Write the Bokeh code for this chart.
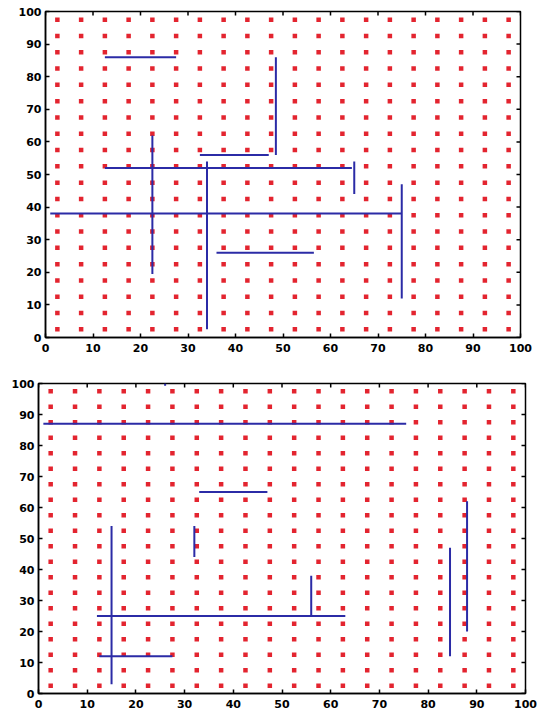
from bokeh.plotting import figure
from bokeh.layouts import column
from bokeh.models import FixedTicker, Range1d
from bokeh.embed import file_html
from bokeh.resources import INLINE
import math

# grid of seed points (same in both panels)
grid_vals = [2.5 + 5 * i for i in range(20)]
ticks = [0, 10, 20, 30, 40, 50, 60, 70, 80, 90, 100]

# top panel segments
top_x0 = [12.5, 22.5, 12.5, 32.5, 34.0, 48.5, 65.0, 1.0, 75.0, 36.0]
top_x1 = [27.5, 22.5, 64.5, 47.0, 34.0, 48.5, 65.0, 75.0, 75.0, 56.5]
top_y0 = [86.0, 19.5, 52.0, 56.0, 2.5, 56.0, 44.0, 38.0, 12.0, 26.0]
top_y1 = [86.0, 62.0, 52.0, 56.0, 54.0, 86.0, 54.0, 38.0, 47.0, 26.0]

# bottom panel segments
bot_x0 = [1.0, 26.0, 33.0, 15.0, 32.0, 12.0, 12.5, 56.0, 84.5, 88.0]
bot_x1 = [75.5, 26.0, 47.0, 15.0, 32.0, 63.0, 27.5, 56.0, 84.5, 88.0]
bot_y0 = [87.0, 99.3, 65.0, 3.0, 44.0, 25.0, 12.0, 25.0, 12.0, 20.0]
bot_y1 = [87.0, 100.0, 65.0, 54.0, 54.0, 25.0, 12.0, 38.0, 47.0, 62.0]

RED = "#e3242f"
BLUE = "#2b2ba6"

def make_panel(fw, fh, bl, br, bt, bb, x0, x1, y0, y1):
    p = figure(frame_width=fw, frame_height=fh, output_backend="svg", toolbar_location=None,
               x_range=Range1d(0, 100), y_range=Range1d(0, 100),
               min_border_left=bl, min_border_right=br,
               min_border_top=bt, min_border_bottom=bb)
    p.xgrid.visible = False
    p.ygrid.visible = False
    p.outline_line_color = "black"
    p.outline_line_width = 1.5
    for ax in (p.xaxis[0], p.yaxis[0]):
        ax.ticker = FixedTicker(ticks=ticks)
        ax.major_tick_in = 4
        ax.major_tick_out = 0
        ax.minor_tick_line_color = None
        ax.axis_line_width = 1.5
        ax.major_tick_line_width = 1.5
        ax.major_label_text_font = "DejaVu Sans"
        ax.major_label_text_font_style = "bold"
        ax.major_label_text_font_size = "11px"
        ax.major_label_text_color = "black"
    p.xaxis[0].major_label_standoff = 6
    p.yaxis[0].major_label_standoff = 4
    # inward ticks on the top and right frame edges
    p.scatter(ticks, [100] * len(ticks), marker="dash", angle=math.pi / 2, size=8,
              line_color="black", line_width=1.5)
    p.scatter([100] * len(ticks), ticks, marker="dash", size=8,
              line_color="black", line_width=1.5)
    xs = [x for y in grid_vals for x in grid_vals]
    ys = [y for y in grid_vals for x in grid_vals]
    p.scatter(xs, ys, marker="square", size=4.5, color=RED, line_color=None)
    p.segment(x0=x0, y0=y0, x1=x1, y1=y1, line_color=BLUE, line_width=2)
    return p

top = make_panel(475, 326, 45, 18, 11, 23, top_x0, top_x1, top_y0, top_y1)
bot = make_panel(487, 310, 38, 13, 23, 18, bot_x0, bot_x1, bot_y0, bot_y1)

lay = column(column(top), column(bot), spacing=0)
open("out.html", "w").write(file_html(lay, INLINE))
